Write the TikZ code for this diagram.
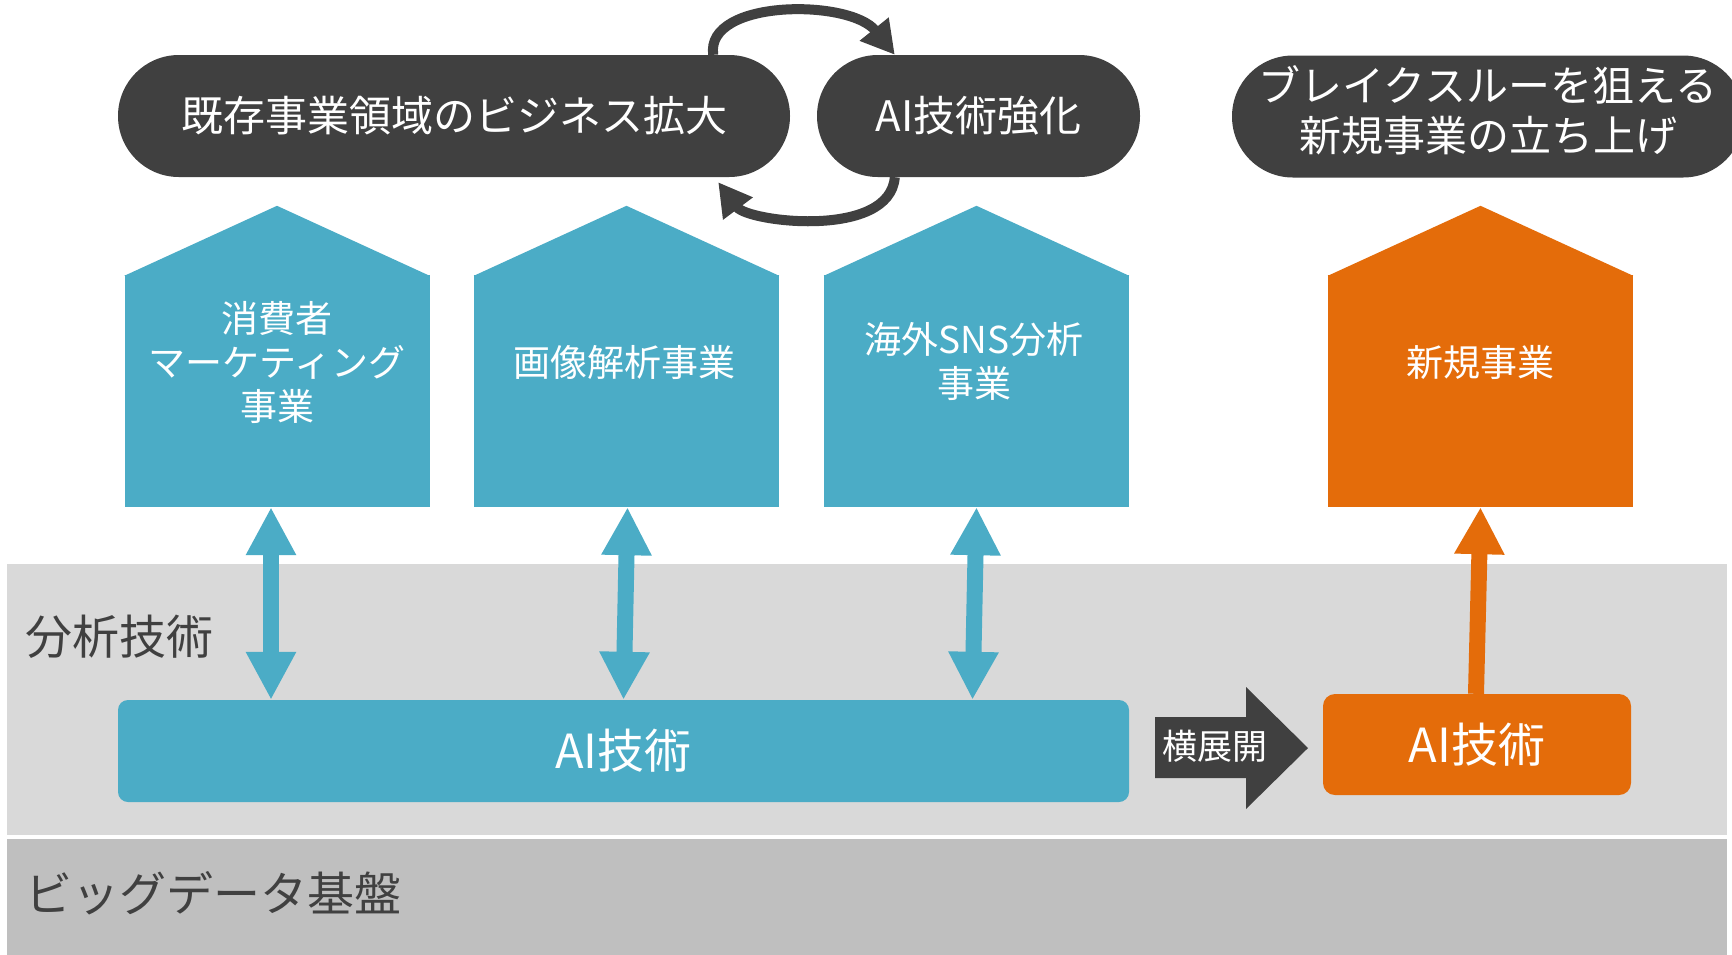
\documentclass[tikz,border=0pt]{standalone}
\usepackage{fontspec}
\setmainfont{Noto Sans CJK JP}
\usetikzlibrary{arrows.meta}
\definecolor{dk}{HTML}{404040}
\definecolor{bl}{HTML}{4BACC6}
\definecolor{og}{HTML}{E46C0A}
\definecolor{lg}{HTML}{D9D9D9}
\definecolor{mg}{HTML}{BFBFBF}
\tikzset{
  pill/.style={fill=dk, rounded corners=60.9pt, minimum height=122pt, inner sep=0pt,
    text=white, align=center, font=\fontsize{42pt}{50pt}\selectfont},
  pilllabel/.style={text=white, align=center, inner sep=0pt, font=\fontsize{42pt}{50pt}\selectfont},
  housebody/.style={minimum width=305pt, minimum height=232pt, inner sep=0pt},
  houselabel/.style={text=white, align=center, font=\fontsize{37pt}{44pt}\selectfont},
  band/.style={anchor=north west, inner sep=0pt, minimum width=1720pt},
  bandlabel/.style={anchor=west, text=dk, inner sep=0pt, font=\fontsize{47pt}{50pt}\selectfont},
  aibox/.style={inner sep=0pt, text=white, font=\fontsize{47pt}{50pt}\selectfont},
  dbl/.style={bl, line width=16pt, {Triangle[width=47pt,length=48pt]}-{Triangle[width=47pt,length=48pt]}},
  uparrow/.style={og, line width=16pt, -{Triangle[width=47pt,length=47pt]}},
  cyc/.style={dk, line width=10pt, -{Triangle[width=35pt,length=33pt]}},
}
\begin{document}
\begin{tikzpicture}[x=1pt, y=-1pt]
\useasboundingbox (0,0) rectangle (1732,954);
\fill[white] (0,0) rectangle (1732,954);

% layers
\node[band, fill=lg, minimum height=271pt] (layer1) at (7,564) {};
\node[band, fill=mg, minimum height=125pt] (layer2) at (7,839) {};
\node[bandlabel] (l1) at (25,637) {分析技術};
\node[bandlabel] (l2) at (25,893) {ビッグデータ基盤};

% top pills
\node[pill, minimum width=672pt] (p1) at (454,116) {既存事業領域のビジネス拡大};
\node[pill, minimum width=323pt] (p2) at (978.5,116) {AI技術強化};
\node[pill, minimum width=512pt] (p3) at (1488,116.5) {};
\node[pilllabel] (p3l) at (1488,110) {ブレイクスルーを狙える\\新規事業の立ち上げ};

% cycle arrows
\draw[cyc] ([xshift=-77pt]p1.north east) .. controls +(-8,-56) and +(-45,-56) .. ([xshift=78pt]p2.north west);
\draw[cyc] ([xshift=78pt]p2.south west) .. controls +(-5,62) and +(30,40) .. ([xshift=-72pt,yshift=-5pt]p1.south east);

% houses
\node[housebody, fill=bl] (h1) at (277,391) {};
\node[housebody, fill=bl] (h2) at (626.5,391) {};
\node[housebody, fill=bl] (h3) at (976.5,391) {};
\node[housebody, fill=og] (h4) at (1480.5,391) {};
\fill[bl] ([yshift=-1pt]h1.north west) -- ([yshift=69pt]h1.north) -- ([yshift=-1pt]h1.north east) -- cycle;
\fill[bl] ([yshift=-1pt]h2.north west) -- ([yshift=69pt]h2.north) -- ([yshift=-1pt]h2.north east) -- cycle;
\fill[bl] ([yshift=-1pt]h3.north west) -- ([yshift=69pt]h3.north) -- ([yshift=-1pt]h3.north east) -- cycle;
\fill[og] ([yshift=-1pt]h4.north west) -- ([yshift=69pt]h4.north) -- ([yshift=-1pt]h4.north east) -- cycle;
\node[houselabel] (h1l) at (277,362) {消費者\\マーケティング\\事業};
\node[houselabel] (h2l) at (624,362) {画像解析事業};
\node[houselabel] (h3l) at (974,361) {海外SNS分析\\事業};
\node[houselabel] (h4l) at (1480.5,362) {新規事業};

% AI boxes
\node[aibox, fill=bl, rounded corners=10pt, minimum width=1011pt, minimum height=102pt] (ai) at (623.5,751) {AI技術};
\node[aibox, fill=og, rounded corners=12pt, minimum width=308pt, minimum height=101pt] (oai) at (1477,744.5) {AI技術};

% connectors
\draw[dbl] ([xshift=-6pt]h1.south) -- ([xshift=-6pt]h1.south |- ai.north);
\draw[dbl] ([xshift=1pt]h2.south) -- ([xshift=-3pt]h2.south |- ai.north);
\draw[dbl] (h3.south) -- ([xshift=-4pt]h3.south |- ai.north);
\draw[uparrow] ([xshift=-1pt]oai.north) -- (h4.south);

% 横展開 block arrow
\fill[dk] (1155,717) -- (1246,717) -- (1246,687) -- (1308,748) -- (1246,809) -- (1246,778) -- (1155,778) -- cycle;
\node[text=white, inner sep=0pt, font=\fontsize{35pt}{40pt}\selectfont] (yoko) at (1215,746) {横展開};
\end{tikzpicture}
\end{document}
